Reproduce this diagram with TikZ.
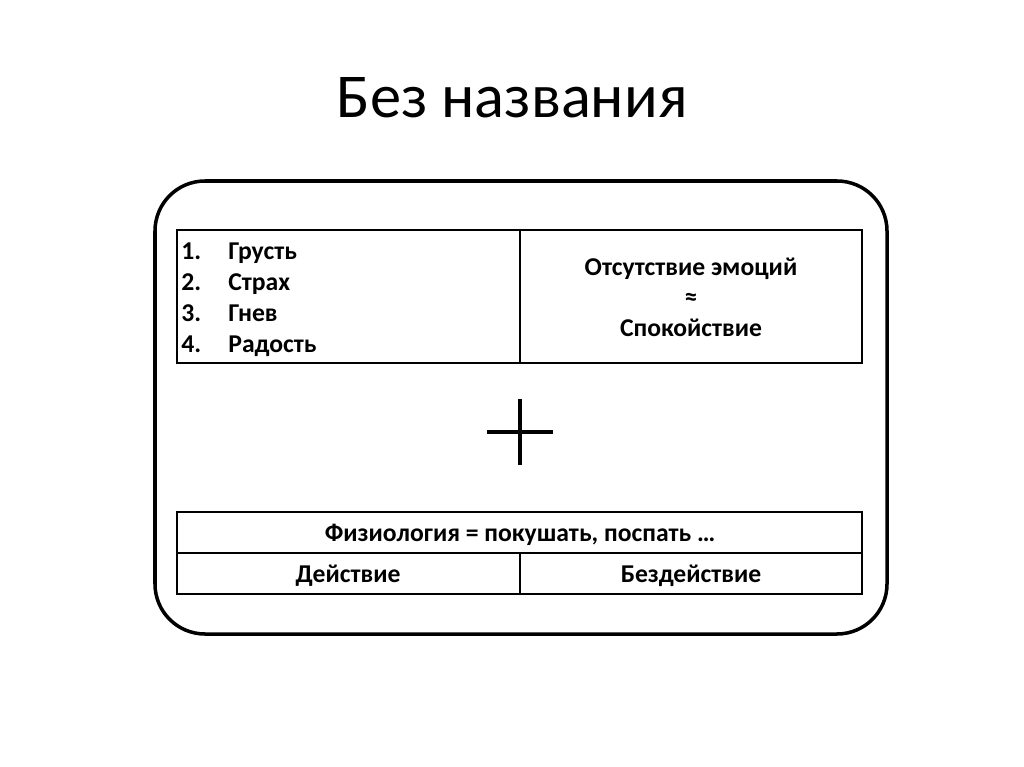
\documentclass[tikz,border=0pt]{standalone}
\usepackage{fontspec}
\setmainfont{Carlito}
\begin{document}
\begin{tikzpicture}[x=0.02cm, y=-0.02cm,
    frame/.style={line width=2pt, rounded corners=1cm},
    cell/.style={line width=0.9pt},
    txt/.style={font=\fontsize{14.6pt}{18pt}\selectfont\bfseries, anchor=base, inner sep=0pt}]
  \useasboundingbox (0,0) rectangle (1024,767);
  % title
  \node[font=\fontsize{35.5pt}{42pt}\selectfont, anchor=base, inner sep=0pt] (title) at (512,117) {Без названия};
  % outer frame
  \draw[frame] (155,181) rectangle (887,634);
  % upper table
  \draw[cell] (177,230) rectangle (862,363);
  \draw[cell] (520,230) -- (520,363);
  \foreach \n/\w [count=\i] in {1/Грусть, 2/Страх, 3/Гнев, 4/Радость} {
    \node[txt, anchor=base west] (num\i) at (181,{228+31*\i}) {\n.};
    \node[txt, anchor=base west] (item\i) at (228,{228+31*\i}) {\w};
  }
  \node[txt] (calm1) at (691,275) {Отсутствие эмоций};
  \node[txt] (approx) at (691,305) {≈};
  \node[txt] (calm2) at (691,336) {Спокойствие};
  % plus sign
  \draw[line width=2pt] (487,432) -- (553,432);
  \draw[line width=2pt] (520,399) -- (520,465);
  % lower table
  \draw[cell] (177,512) rectangle (862,594);
  \draw[cell] (177,553) -- (862,553);
  \draw[cell] (520,553) -- (520,594);
  \node[txt] (phys) at (520,541) {Физиология = покушать, поспать …};
  \node[txt] (act) at (348,582) {Действие};
  \node[txt] (inact) at (691,582) {Бездействие};
\end{tikzpicture}
\end{document}
